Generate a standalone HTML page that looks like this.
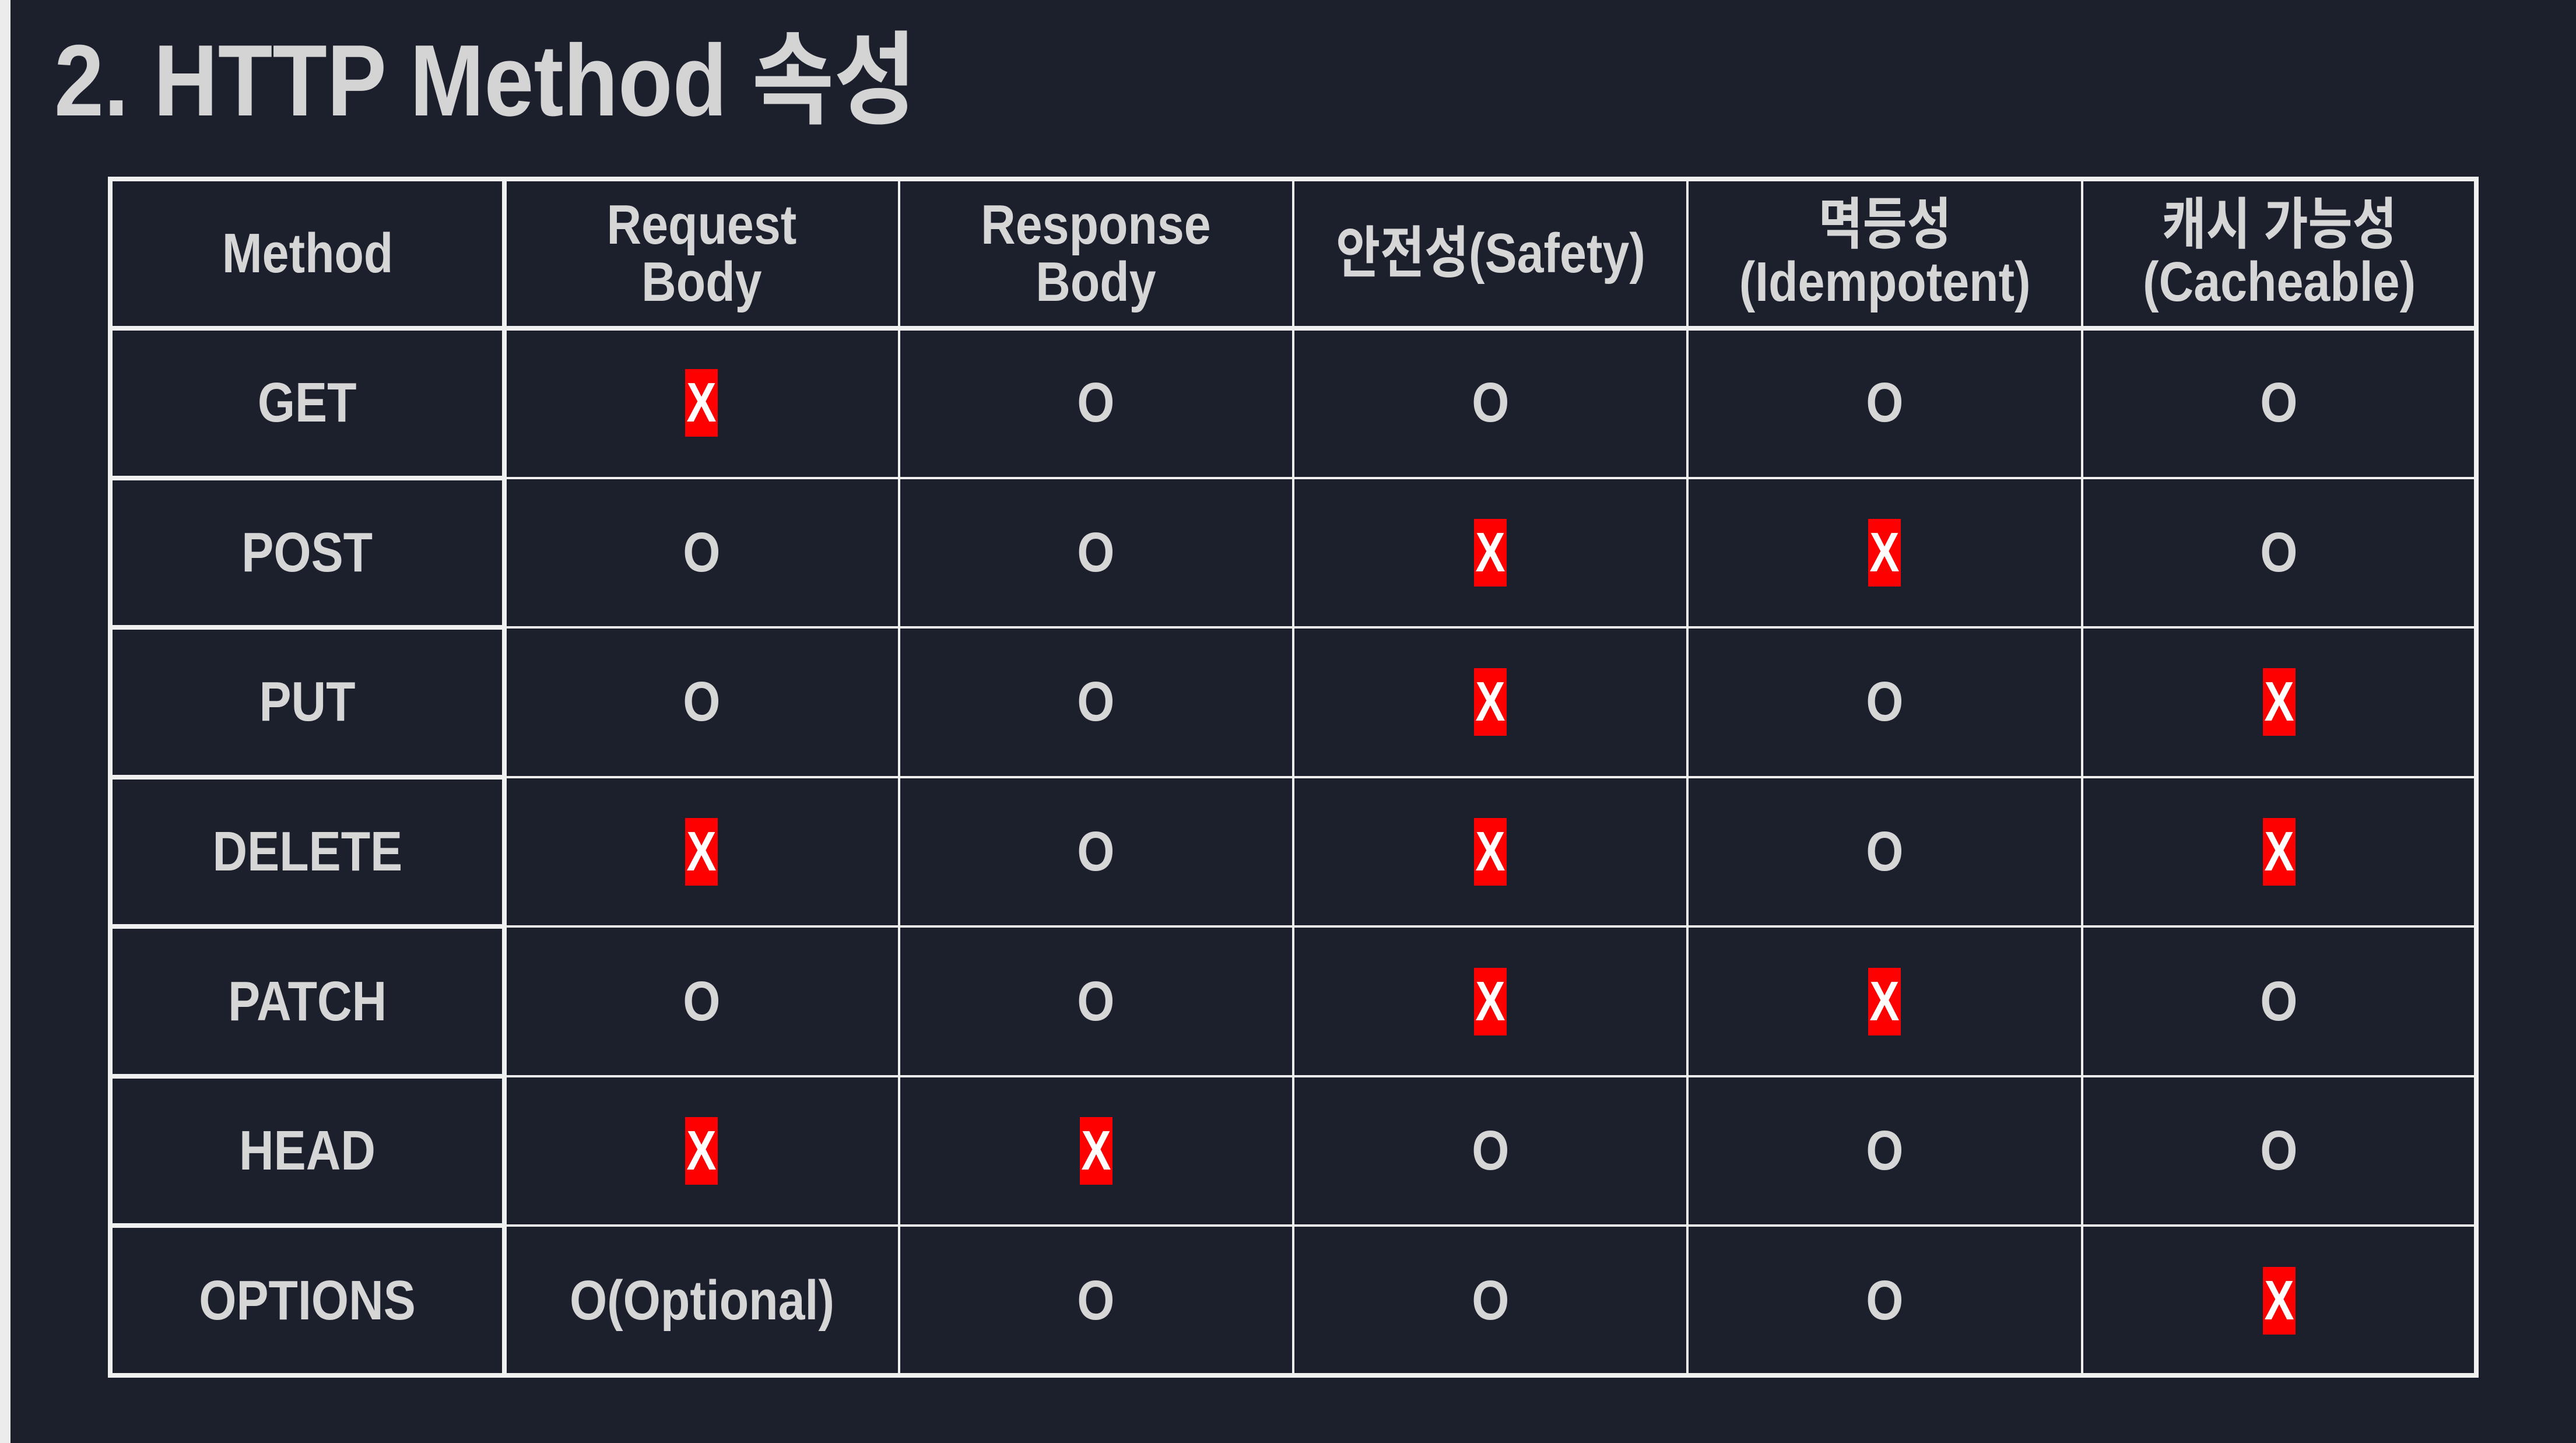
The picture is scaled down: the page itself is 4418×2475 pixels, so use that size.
<!DOCTYPE html>
<html><head><meta charset="utf-8"><style>
html,body{margin:0;padding:0}
body{width:4418px;height:2475px;background:#1c1f2c;position:relative;overflow:hidden;font-family:"Liberation Sans","Noto Sans CJK KR",sans-serif;font-weight:bold;color:#d6d6d6}
#strip{position:absolute;left:0;top:0;width:18px;height:2475px;background:#ececec}
#title{position:absolute;left:93px;top:38px;font-size:174px;line-height:200px;white-space:nowrap;transform:scaleX(0.88);transform-origin:left top;color:#d4d4d4}
.line{position:absolute;background:#f0f0f0}
.cell{position:absolute;display:flex;align-items:center;justify-content:center;text-align:center}
.txt{display:inline-block;font-size:96px;line-height:98px;transform:scaleX(0.86);white-space:nowrap}
.x{background:#ff0000;color:#fff;width:56px;height:116px;display:flex;align-items:center;justify-content:center;font-size:96px;overflow:visible}
.x span{display:inline-block;transform:scaleX(0.8)}
</style></head><body>
<div id="strip"></div>
<div id="title">2. HTTP Method 속성</div>
<div id="table"></div>
<script>
const headers=["Method","Request<br>Body","Response<br>Body","안전성(Safety)","멱등성<br>(Idempotent)","캐시 가능성<br>(Cacheable)"];
const methods=["GET","POST","PUT","DELETE","PATCH","HEAD","OPTIONS"];
const values=[
["X","O","O","O","O"],
["O","O","X","X","O"],
["O","O","X","O","X"],
["X","O","X","O","X"],
["O","O","X","X","O"],
["X","X","O","O","O"],
["O(Optional)","O","O","O","X"]];
const L=189,R=4247,T=307,B=2359,HH=256;
const cw=(R-L)/6, rh=(B-T-HH)/7;
const tb=document.getElementById('table');
function line(x,y,w,h,name){const d=document.createElement('div');d.className='line';


d.style.cssText=`left:${x}px;top:${y}px;width:${w}px;height:${h}px`;tb.appendChild(d);}
function cell(c,r,html,name){const d=document.createElement('div');d.className='cell';


const y=r<0?T:T+HH+r*rh, h=r<0?HH:rh;
d.style.cssText=`left:${L+c*cw}px;top:${y}px;width:${cw}px;height:${h}px`;
d.innerHTML=html;tb.appendChild(d);}
headers.forEach((h,i)=>cell(i,-1,`<span class="txt">${h}</span>`,'header-cell'));
methods.forEach((m,r)=>{cell(0,r,`<span class="txt">${m}</span>`,'method-cell');
values[r].forEach((v,c)=>{const html=v==='X'?`<div class="x"><span>X</span></div>`:`<span class="txt">${v}</span>`;cell(c+1,r,html,v==='X'?'x-marker-cell':'o-value-cell');});});
for(let c=2;c<6;c++)line(L+c*cw-2,T,4,B-T,'column-divider');
line(L+cw-4,T,8,B-T,'method-column-divider');
for(let r=1;r<7;r++){const y=T+HH+r*rh;line(L,y-4,cw,8,'method-row-divider');line(L+cw,y-2,R-L-cw,4,'row-divider');}
line(L,T+HH-4,R-L,8,'header-divider');
line(L-4,T-4,R-L+8,8,'table-border-top');
line(L-4,B-4,R-L+8,8,'table-border-bottom');
line(L-4,T-4,8,B-T+8,'table-border-left');
line(R-4,T-4,8,B-T+8,'table-border-right');
</script>
</body></html>
